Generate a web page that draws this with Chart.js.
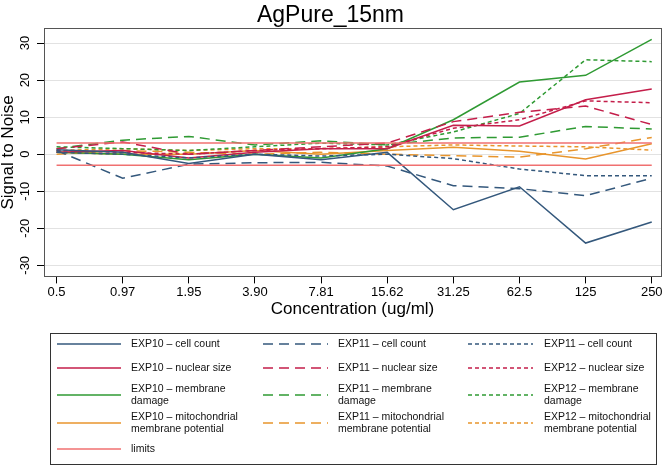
<!DOCTYPE html>
<html>
<head>
<meta charset="utf-8">
<script src="https://cdn.jsdelivr.net/npm/chart.js@4.4.1/dist/chart.umd.min.js"></script>
<style>
  html, body { margin: 0; padding: 0; background: #fff; }
  canvas { display: block; }
</style>
</head>
<body>
<canvas id="chart" width="664" height="466"></canvas>
<script>
// x categories (concentration, ug/ml) and y tick values
const concLabels = ['0.5', '0.97', '1.95', '3.90', '7.81', '15.62', '31.25', '62.5', '125', '250']
const yTicks = [-30, -20, -10, 0, 10, 20, 30]

// signal to noise, one value per concentration
const exp10CellCount = [1.2, 0.5, -2.5, 0, -1.5, 0.5, -15, -8.8, -24, -18.3]
const exp11CellCount = [1, -6.5, -2.7, -2.3, -2.2, -3.2, -8.5, -9.3, -11.2, -6.5]
const exp12CellCount = [0.5, 0, -1, 0, -0.5, 0, -1.2, -4, -5.8, -5.8]

const exp10Nuclear = [0.5, 1, -1, 0.5, 1.5, 1.5, 7.8, 7.6, 14.7, 17.6]
const exp11Nuclear = [1.5, 3.3, 0, 1, 2, 3, 8.8, 11.3, 13, 8]
const exp12Nuclear = [1, 0.5, 0, 1, 1.5, 2, 7, 9.3, 14.4, 13.9]

const exp10Membrane = [0.5, 0, -1.5, 0, -1, 1.5, 9.3, 19.5, 21.3, 31]
const exp11Membrane = [1.5, 3.8, 4.8, 2.5, 3.6, 2.5, 4.4, 4.6, 7.5, 6.8]
const exp12Membrane = [2, 1.5, 1, 2, 3, 2.5, 6, 11, 25.5, 25]

const exp10Mito = [0.5, 0, 0, 1, 0, 1, 1.9, 0.8, -1.3, 2.8]
const exp11Mito = [0, 1, 0.5, 0, 0.5, 0, -0.4, -0.8, 1.5, 4.5]
const exp12Mito = [1, 1.5, 1, 1.5, 1.5, 2, 2.5, 2.2, 2, 1.1]

const limitUpper = [3, 3, 3, 3, 3, 3, 3, 3, 3, 3]
const limitLower = [-3, -3, -3, -3, -3, -3, -3, -3, -3, -3]

const blue = '#34587c'
const crimson = '#c41e4a'
const green = '#2f9a33'
const orange = '#e8952c'
const limitRed = '#f07070'
const dashed = [10, 6]
const dotted = [4, 3]
const fontFamily = '"Liberation Sans", Arial, sans-serif'

const toPoints = arr => arr.map((v, i) => ({ x: i, y: v }))

// slot = [row, col] in the legend box below the plot
const series = (label, values, color, dash, slot) => ({
    label: label,
    data: toPoints(values),
    borderColor: color,
    borderDash: dash,
    borderWidth: 1.5,
    pointRadius: 0,
    fill: false,
    tension: 0,
    slot: slot
})

const datasets = [
    series('limits', limitUpper, limitRed, [], [4, 0]),
    series('', limitLower, limitRed, [], null),
    series('EXP10 – cell count', exp10CellCount, blue, [], [0, 0]),
    series('EXP11 – cell count', exp11CellCount, blue, dashed, [0, 1]),
    series('EXP11 – cell count', exp12CellCount, blue, dotted, [0, 2]),
    series('EXP10 – nuclear size', exp10Nuclear, crimson, [], [1, 0]),
    series('EXP11 – nuclear size', exp11Nuclear, crimson, dashed, [1, 1]),
    series('EXP12 – nuclear size', exp12Nuclear, crimson, dotted, [1, 2]),
    series('EXP10 – membrane\ndamage', exp10Membrane, green, [], [2, 0]),
    series('EXP11 – membrane\ndamage', exp11Membrane, green, dashed, [2, 1]),
    series('EXP12 – membrane\ndamage', exp12Membrane, green, dotted, [2, 2]),
    series('EXP10 – mitochondrial\nmembrane potential', exp10Mito, orange, [], [3, 0]),
    series('EXP11 – mitochondrial\nmembrane potential', exp11Mito, orange, dashed, [3, 1]),
    series('EXP12 – mitochondrial\nmembrane potential', exp12Mito, orange, dotted, [3, 2])
]

// frame around the plot region + vertical y tick labels centred on their ticks
const frame = {
    id: 'frame',
    afterDatasetsDraw(chart) {
        const a = chart.chartArea
        const ctx = chart.ctx
        ctx.save()
        ctx.strokeStyle = '#555'
        ctx.lineWidth = 1
        ctx.strokeRect(Math.round(a.left) + 0.5, Math.round(a.top) + 0.5, Math.round(a.right - a.left), Math.round(a.bottom - a.top))
        const y = chart.scales.y
        ctx.fillStyle = '#000'
        ctx.font = '13px ' + fontFamily
        ctx.textAlign = 'center'
        ctx.textBaseline = 'middle'
        yTicks.forEach(v => {
            ctx.save()
            ctx.translate(a.left - 19, y.getPixelForValue(v))
            ctx.rotate(-Math.PI / 2)
            ctx.fillText(String(v), 0, 0)
            ctx.restore()
        })
        ctx.restore()
    }
}

// stata style legend: boxed 3 column grid under the plot
const boxLegend = {
    id: 'boxLegend',
    afterDraw(chart) {
        const ctx = chart.ctx
        const box = { left: 50, top: 333, right: 656, bottom: 464 }
        const cols = [{ x: 57, w: 64, tx: 131 }, { x: 263, w: 65, tx: 338 }, { x: 468, w: 65, tx: 544 }]
        const rows = [344, 368, 395, 423, 449]
        ctx.save()
        ctx.strokeStyle = '#333'
        ctx.lineWidth = 1
        ctx.strokeRect(box.left + 0.5, box.top + 0.5, box.right - box.left, box.bottom - box.top)
        ctx.font = '10.5px ' + fontFamily
        ctx.fillStyle = '#111'
        ctx.textBaseline = 'middle'
        chart.data.datasets.forEach(ds => {
            if (!ds.slot) return
            const col = cols[ds.slot[1]]
            const y = rows[ds.slot[0]]
            ctx.strokeStyle = ds.borderColor
            ctx.lineWidth = 1.6
            ctx.setLineDash(ds.borderDash)
            ctx.beginPath()
            ctx.moveTo(col.x, y)
            ctx.lineTo(col.x + col.w, y)
            ctx.stroke()
            ctx.setLineDash([])
            const lines = ds.label.split('\n')
            lines.forEach((t, k) => {
                ctx.fillText(t, col.tx, y + (k - (lines.length - 1) / 2) * 12)
            })
        })
        ctx.restore()
    }
}

Chart.defaults.font.family = fontFamily
Chart.defaults.color = '#000'

new Chart(document.getElementById('chart'), {
    type: 'line',
    data: { datasets: datasets },
    options: {
        responsive: false,
        animation: false,
        layout: { padding: { left: 0, right: 3, top: 0, bottom: 148 } },
        plugins: {
            legend: { display: false },
            tooltip: { enabled: false },
            title: {
                display: true,
                text: 'AgPure_15nm',
                font: { size: 23, weight: 'normal', lineHeight: 1.1 },
                color: '#000',
                padding: { top: 3, bottom: 0 }
            }
        },
        scales: {
            x: {
                type: 'linear',
                min: -0.19,
                max: 9.14,
                afterBuildTicks: s => { s.ticks = concLabels.map((_, i) => ({ value: i })) },
                ticks: {
                    callback: v => concLabels[v],
                    font: { size: 13 },
                    color: '#000',
                    padding: 1,
                    maxRotation: 0,
                    autoSkip: false
                },
                grid: { drawOnChartArea: false, tickLength: 7, tickColor: '#000' },
                border: { color: '#000' },
                title: {
                    display: true,
                    text: 'Concentration (ug/ml)',
                    font: { size: 17, lineHeight: 1 },
                    color: '#000',
                    padding: { top: 0, bottom: 0 }
                }
            },
            y: {
                min: -33,
                max: 34,
                afterBuildTicks: s => { s.ticks = yTicks.map(v => ({ value: v })) },
                ticks: {
                    // drawn by the frame plugin, kept here only to reserve space
                    font: { size: 13, lineHeight: 1 },
                    color: 'rgba(0,0,0,0)',
                    padding: 3.5,
                    minRotation: 90,
                    maxRotation: 90
                },
                grid: { color: '#e2e2e2', tickLength: 7, tickColor: '#000' },
                border: { color: '#000' },
                title: {
                    display: true,
                    text: 'Signal to Noise',
                    font: { size: 17, lineHeight: 1 },
                    color: '#000',
                    padding: { top: 0, bottom: 0 }
                }
            }
        }
    },
    plugins: [frame, boxLegend]
})
</script>
</body>
</html>
